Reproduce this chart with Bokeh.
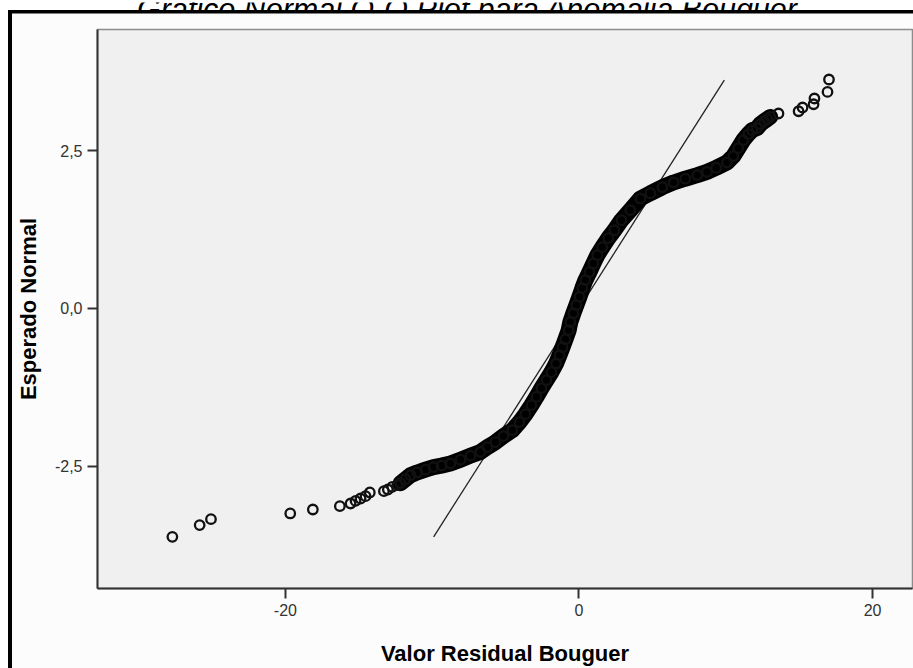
from bokeh.plotting import figure
from bokeh.layouts import column
from bokeh.models import Range1d, FixedTicker
from bokeh.core.properties import value
from bokeh.embed import file_html
from bokeh.resources import INLINE

# Residual value (x) against expected normal quantile (y)
tail_low_x = [-27.70, -25.84, -25.07, -19.67, -18.13, -16.29, -15.56, -15.22,
              -14.88, -14.54, -14.25, -13.29, -13.02, -12.72, -12.38]
tail_low_y = [-3.621, -3.435, -3.340, -3.250, -3.187, -3.135, -3.092, -3.051,
              -3.013, -2.976, -2.917, -2.897, -2.870, -2.829, -2.802]

body_x = [-12.16, -11.82, -11.48, -11.02, -10.46, -9.91, -9.37, -8.76, -8.07,
          -7.39, -6.71, -6.24, -5.69, -5.15, -4.54, -4.06, -3.65, -3.24, -2.90,
          -2.56, -2.22, -1.88, -1.56, -1.33, -1.12, -0.92, -0.70, -0.59, -0.38,
          -0.18, 0.03, 0.23, 0.44, 0.71, 0.98, 1.25, 1.59, 2.00, 2.41, 2.89,
          3.50, 4.18, 4.86, 5.68, 6.45, 7.24, 8.06, 8.72, 9.35, 10.08, 10.51,
          10.85, 11.19, 11.53, 11.80, 12.12, 12.35, 12.62, 12.82, 13.03]
body_y = [-2.770, -2.707, -2.644, -2.600, -2.556, -2.516, -2.492, -2.458, -2.397,
          -2.334, -2.274, -2.199, -2.120, -2.025, -1.930, -1.803, -1.676, -1.533,
          -1.402, -1.264, -1.137, -1.010, -0.872, -0.741, -0.614, -0.487, -0.344,
          -0.217, -0.075, 0.052, 0.184, 0.322, 0.449, 0.576, 0.714, 0.845, 0.972,
          1.115, 1.241, 1.400, 1.559, 1.744, 1.828, 1.923, 1.998, 2.058, 2.114,
          2.166, 2.232, 2.315, 2.415, 2.542, 2.669, 2.764, 2.828, 2.859, 2.922,
          2.970, 3.002, 3.038]

tail_high_x = [13.59, 14.96, 15.23, 15.98, 16.04, 16.93, 17.03]
tail_high_y = [3.092, 3.128, 3.187, 3.239, 3.330, 3.434, 3.631]

# Reference normal line endpoints
ref_x = [-9.9, 9.9]
ref_y = [-3.62, 3.62]

x_ticks = [-20, 0, 20]
x_tick_labels = ["-20", "0", "20"]
y_ticks = [-2.5, 0.0, 2.5]
y_tick_labels = ["-2,5", "0,0", "2,5"]

title_text = "Gráfico Normal Q-Q Plot para Anomalia Bouguer"
x_title = "Valor Residual Bouguer"
y_title = "Esperado Normal"

# --- title strip; its plotting area lines up with the main plot (97..912 px),
# so the x range is given in page pixels. The top of the text runs off the page.
head = figure(width=913, height=10, x_range=Range1d(97, 912), y_range=Range1d(0, 10),
              x_axis_type=None, y_axis_type=None, min_border=0,
              output_backend="svg", toolbar_location=None)
head.outline_line_color = None
head.background_fill_color = "#ffffff"
head.border_fill_color = "#ffffff"
head.grid.visible = False
head.text(x=[467], y=[3.5], text=[title_text], text_align="center",
          text_baseline="alphabetic", text_font=value("Liberation Sans"),
          text_font_style="italic", text_font_size="30.5px", text_color="#000000")

# --- main Q-Q plot
p = figure(width=913, height=658,
           x_range=Range1d(-32.80, 22.72), y_range=Range1d(-4.44, 4.424),
           output_backend="svg", toolbar_location=None,
           min_border_left=97, min_border_right=1,
           min_border_top=19, min_border_bottom=80)

# chart border drawn behind a transparent canvas border area
p.border_fill_color = None
p.styles = {
    "background": ("linear-gradient(#000,#000) 8px 0px / 4px 100% no-repeat, "
                   "linear-gradient(#000,#000) 8px 0px / 100% 3.5px no-repeat, "
                   "linear-gradient(#fcfcfc,#fcfcfc) 12px 3px / 100% 100% no-repeat, "
                   "#ffffff")
}
p.background_fill_color = "#f0f0f0"
p.outline_line_color = "#8c8c8c"
p.outline_line_width = 1.5
p.xgrid.visible = False
p.ygrid.visible = False

for ax in (p.xaxis[0], p.yaxis[0]):
    ax.axis_line_color = "#333333"
    ax.axis_line_width = 2
    ax.major_tick_line_color = "#333333"
    ax.major_tick_line_width = 2
    ax.major_tick_out = 10
    ax.major_tick_in = 0
    ax.minor_tick_line_color = None
    ax.major_label_text_font = "Liberation Sans"
    ax.major_label_text_font_size = "16px"
    ax.major_label_text_color = "#333333"
    ax.major_label_standoff = 5
    ax.axis_label_text_font = "Liberation Sans"
    ax.axis_label_text_font_size = "22px"
    ax.axis_label_text_font_style = "bold"
    ax.axis_label_text_color = "#000000"

p.xaxis.ticker = FixedTicker(ticks=x_ticks)
p.yaxis.ticker = FixedTicker(ticks=y_ticks)
p.xaxis.major_label_overrides = {t: s for t, s in zip(x_ticks, x_tick_labels)}
p.yaxis.major_label_overrides = {t: s for t, s in zip(y_ticks, y_tick_labels)}
p.xaxis.axis_label = x_title
p.yaxis.axis_label = y_title
p.xaxis.axis_label_standoff = 22
p.yaxis.axis_label_standoff = 11

# Expected-normal reference line
p.line(ref_x, ref_y, line_color="#222222", line_width=1.3)

# Dense middle of the sample: overlapping markers merge into a solid band
p.line(body_x, body_y, line_color="#000000", line_width=16,
       line_join="round", line_cap="round")

all_x = tail_low_x + body_x + tail_high_x
all_y = tail_low_y + body_y + tail_high_y
p.scatter(all_x, all_y, marker="circle", size=9.5, fill_alpha=0,
          line_color="#111111", line_width=2.3)

layout = column(head, p, spacing=0)
open("out.html", "w").write(file_html(layout, INLINE))
